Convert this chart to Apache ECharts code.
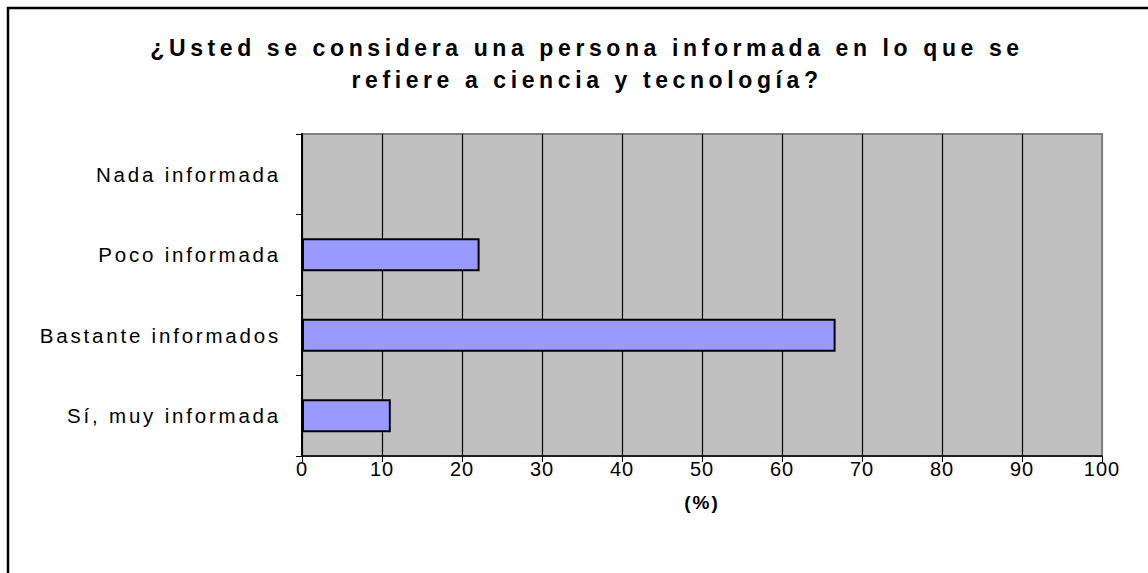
<!DOCTYPE html>
<html>
<head>
<meta charset="utf-8">
<script src="https://cdn.jsdelivr.net/npm/echarts@6/dist/echarts.min.js"></script>
<style>
  html, body { margin: 0; padding: 0; background: #fff; }
  #chart { width: 1148px; height: 573px; }
</style>
</head>
<body>
<div id="chart"></div>
<script>
  var titleText = '¿Usted se considera una persona informada en lo que se\nrefiere a ciencia y tecnología?';
  var categories = ['Sí, muy informada', 'Bastante informados', 'Poco informada', 'Nada informada'];
  var values = [11.1, 66.7, 22.2, 0];
  var xTicks = [0, 10, 20, 30, 40, 50, 60, 70, 80, 90, 100];
  var xName = '(%)';

  var gridColors = xTicks.map(function (t, i) { return i == xTicks.length - 1 ? '#808080' : '#000'; });

  var chart = echarts.init(document.getElementById('chart'), null, { renderer: 'svg' });
  var option = {
    animation: false,
    backgroundColor: '#fff',
    title: {
      text: titleText,
      left: 582,
      top: 27,
      textAlign: 'center',
      textStyle: {
        fontFamily: 'Liberation Sans, Arial, sans-serif',
        fontSize: 23,
        fontWeight: 'bold',
        color: '#000',
        lineHeight: 32
      }
    },
    graphic: [{
      type: 'rect',
      shape: { x: 8, y: 8, width: 1200, height: 600 },
      style: { fill: 'none', stroke: '#000', lineWidth: 2.5 },
      silent: true
    }],
    grid: {
      left: 302,
      top: 134,
      width: 800,
      height: 322,
      show: true,
      backgroundColor: '#C0C0C0',
      borderColor: '#808080',
      borderWidth: 2,
      containLabel: false
    },
    xAxis: {
      type: 'value',
      min: 0,
      max: 100,
      interval: 10,
      name: xName,
      nameLocation: 'middle',
      nameGap: 37,
      nameTextStyle: {
        fontFamily: 'Liberation Sans, Arial, sans-serif',
        fontSize: 19,
        fontWeight: 'bold',
        color: '#000'
      },
      axisLine: { show: true, lineStyle: { color: '#000', width: 1.5 } },
      axisTick: { show: true, length: 6, lineStyle: { color: '#000', width: 1 } },
      axisLabel: {
        margin: 3,
        fontFamily: 'Liberation Sans, Arial, sans-serif',
        fontSize: 20,
        color: '#000'
      },
      splitLine: { show: true, lineStyle: { color: gridColors, width: 1.2 } }
    },
    yAxis: {
      type: 'category',
      data: categories,
      axisLine: { show: true, lineStyle: { color: '#000', width: 2 } },
      axisTick: { show: true, length: 6, lineStyle: { color: '#000', width: 1 } },
      axisLabel: {
        margin: 21,
        fontFamily: 'Liberation Sans, Arial, sans-serif',
        fontSize: 20.5,
        color: '#000'
      },
      splitLine: { show: false }
    },
    series: [{
      type: 'bar',
      data: values,
      barWidth: 33,
      itemStyle: { color: '#9999FF', borderColor: '#000', borderWidth: 2 }
    }]
  };
  chart.setOption(option);

  // spread letters like the original
  var texts = document.querySelectorAll('#chart text');
  for (var i = 0; i < texts.length; i++) {
    var t = texts[i];
    var fs = parseFloat(getComputedStyle(t).fontSize);
    var fw = getComputedStyle(t).fontWeight;
    if (fs >= 23) {
      t.style.letterSpacing = '4.6px';
    } else if (fw == '700' || fw == 'bold') {
      t.style.letterSpacing = '2px';
    } else if (fs > 20.2) {
      t.style.letterSpacing = '2.8px';
    } else {
      t.style.letterSpacing = '1px';
    }
  }
</script>
</body>
</html>
